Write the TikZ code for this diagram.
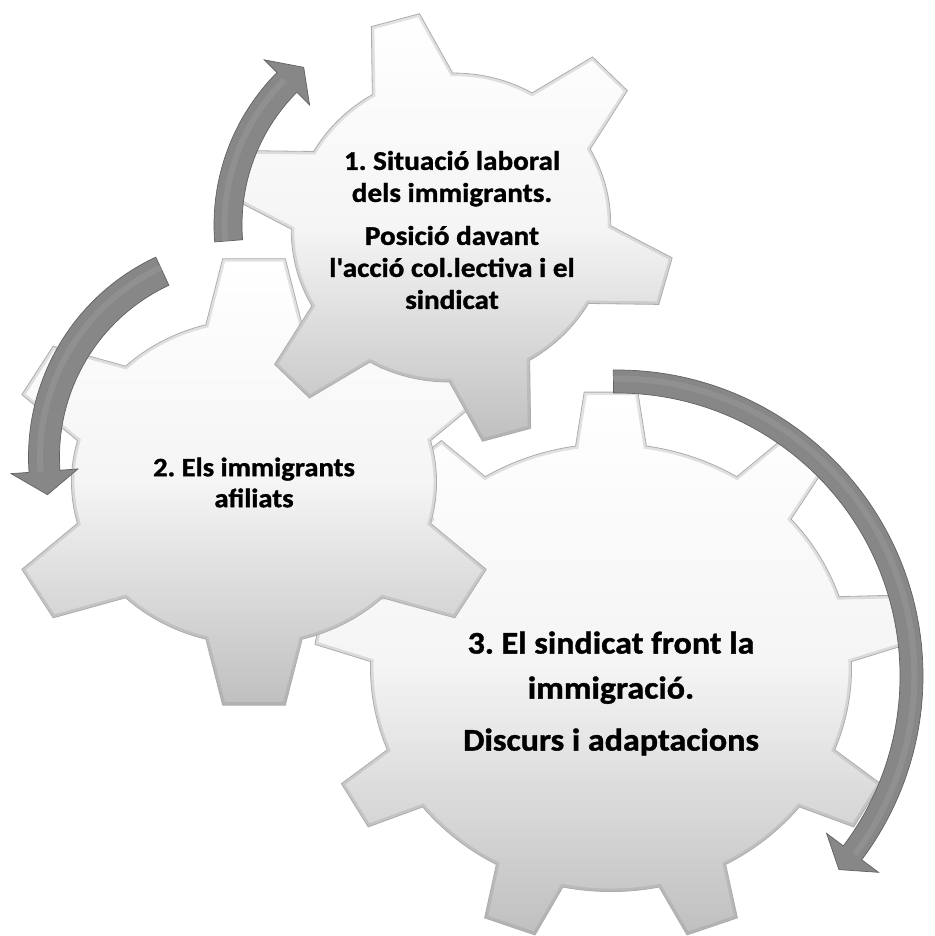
\documentclass[tikz,border=0pt]{standalone}
\usepackage{fontspec}
\newfontfamily\gfont{Carlito}[FakeStretch=1.08, BoldFeatures={FakeBold=1.2}]
\newcommand{\gearshape}[7]{% #1 style, #2 teeth, #3 start angle, #4 tip radius, #5 body radius, #6 tip half width, #7 base half width
  \pgfmathsetmacro\gSt{360/#2}%
  \pgfmathsetmacro\gDt{asin(#6/#4)}%
  \pgfmathsetmacro\gDb{asin(#7/#5)}%
  \pgfmathtruncatemacro\gLast{#2-1}%
  \path[#1] ({#3-\gDb}:#5)
    \foreach \k in {0,...,\gLast}{
      -- ({#3+\k*\gSt-\gDt}:#4) -- ({#3+\k*\gSt+\gDt}:#4) -- ({#3+\k*\gSt+\gDb}:#5)
      arc[start angle={#3+\k*\gSt+\gDb}, end angle={#3+(\k+1)*\gSt-\gDb}, radius=#5]
    } -- cycle;
}
\newcommand{\fullgear}[6]{% #1 teeth, #2 start angle, #3 tip radius, #4 body radius, #5 tip half width, #6 base half width
  \gearshape{gearfill}{#1}{#2}{#3}{#4}{#5}{#6}
  \begin{scope}
    \gearshape{clip}{#1}{#2}{#3}{#4}{#5}{#6}
    \gearshape{gearrim}{#1}{#2}{#3}{#4}{#5}{#6}
  \end{scope}
  \gearshape{gearline}{#1}{#2}{#3}{#4}{#5}{#6}
}
\newcommand{\circarrow}[6]{% #1 mid radius, #2 half thickness, #3 head half width, #4 tail angle, #5 head base angle, #6 tip angle
  \pgfmathsetmacro\aOut{#1+#2}%
  \pgfmathsetmacro\aIn{#1-#2}%
  \pgfmathsetmacro\aHo{#1+#3}%
  \pgfmathsetmacro\aHi{#1-#3}%
  \pgfmathsetmacro\aSh{#1+0.25*#2}%
  \path[arrowbody] (#4:\aOut) arc[start angle=#4, end angle=#5, radius=\aOut]
    -- (#5:\aHo) -- (#6:#1) -- (#5:\aHi) -- (#5:\aIn)
    arc[start angle=#5, end angle=#4, radius=\aIn] -- cycle;
  \draw[arrowshine] (#4:\aSh) arc[start angle=#4, end angle=#5, radius=\aSh];
}
\tikzset{
  gearfill/.style={top color=white, bottom color=black!25, middle color=black!4},
  gearrim/.style={draw=black!45, line width=6pt, opacity=0.25, line join=miter},
  gearline/.style={draw=black!32, line width=0.8pt, line join=miter},
  arrowbody/.style={fill=black!47, draw=black!62, line width=0.7pt, line join=miter},
  arrowshine/.style={draw=black!36, line width=6pt, opacity=0.35},
  gtext/.style={align=center, text=black, inner sep=0pt},
}
\begin{document}
\frenchspacing
\begin{tikzpicture}[x=1pt,y=1pt]
\useasboundingbox (0,0) rectangle (934,936);
% gear 3 (large, bottom right)
\begin{scope}[shift={(611,268.4)}, xscale=1.074]
  \fullgear{9}{90}{276.6}{224}{25}{33}
\end{scope}
% gear 2 (left)
\begin{scope}[shift={(254,454)}, xscale=1.12]
  \fullgear{6}{90}{225}{163}{28}{43}
\end{scope}
% gear 1 (top)
\begin{scope}[shift={(451,708.5)}, rotate=15, xscale=1.04]
  \fullgear{6}{90}{216}{154}{24}{40}
\end{scope}
% texts
\node[gtext, font=\gfont\bfseries\fontsize{27}{32}\selectfont] (t1) at (452,706)
  {1. Situació laboral\\dels immigrants.\\[11pt]Posició davant\\l\textquotesingle acció col.lectiva i el\\sindicat};
\node[gtext, font=\gfont\bfseries\fontsize{26.5}{31}\selectfont] (t2) at (254,453.5)
  {2. Els immigrants\\afiliats};
\node[gtext, font=\gfont\bfseries\fontsize{31.5}{45}\selectfont] (t3) at (611,242.5)
  {3. El sindicat front la\\immigració.\\[7pt]Discurs i adaptacions};
% arrows
\begin{scope}[shift={(430,711)}]
  \circarrow{202}{14}{32}{184.5}{135.1}{128.7}
\end{scope}
\begin{scope}[shift={(249,479)}]
  \circarrow{205}{15.5}{33.5}{115}{184}{190.6}
\end{scope}
\begin{scope}[shift={(617,260)}]
  \circarrow{294.5}{11.5}{32.5}{90.7}{-36.9}{-41.1}
\end{scope}
\end{tikzpicture}
\end{document}
